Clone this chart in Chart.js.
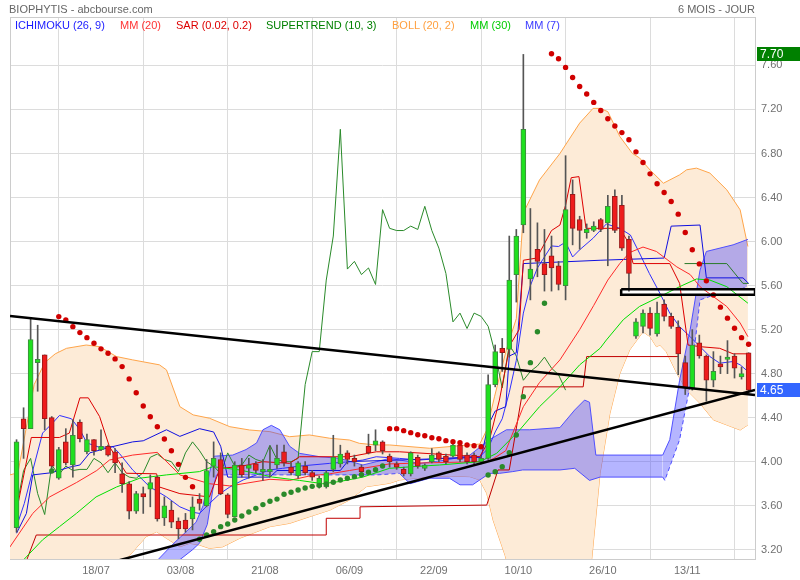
<!DOCTYPE html>
<html>
<head>
<meta charset="utf-8">
<script src="https://cdn.jsdelivr.net/npm/chart.js@4.4.0/dist/chart.umd.min.js"></script>
<style>
  body { margin: 0; background: #fff; }
  #wrap { position: relative; width: 800px; height: 580px; font-family: 'Liberation Sans', Arial, sans-serif; font-size: 11px; }
  #wrap canvas { position: absolute; left: 0; top: 0; }
  .t { position: absolute; white-space: nowrap; line-height: 12px; }
</style>
</head>
<body>
<div id="wrap">
  <canvas id="chart" width="800" height="580"></canvas>
  <div class="t" style="left:9px;top:3px;color:#666">BIOPHYTIS - abcbourse.com</div>
  <div class="t" style="right:45px;top:3px;color:#666">6 MOIS - JOUR</div>
  <div class="t" style="left:15px;top:19px;color:#1a1aff">ICHIMOKU (26, 9)</div>
  <div class="t" style="left:120px;top:19px;color:#ff3333">MM (20)</div>
  <div class="t" style="left:176px;top:19px;color:#dd0000">SAR (0.02, 0.2)</div>
  <div class="t" style="left:266px;top:19px;color:#008000">SUPERTREND (10, 3)</div>
  <div class="t" style="left:392px;top:19px;color:#ffa040">BOLL (20, 2)</div>
  <div class="t" style="left:470px;top:19px;color:#00cc00">MM (30)</div>
  <div class="t" style="left:525px;top:19px;color:#3b3bff">MM (7)</div>
</div>
<script>
// axis labels
const tickIdx = [12, 24, 36, 48, 60, 72, 84, 96];
const tickDates = ['18/07', '03/08', '21/08', '06/09', '22/09', '10/10', '26/10', '13/11'];
const yTicks = [3.2, 3.6, 4.0, 4.4, 4.8, 5.2, 5.6, 6.0, 6.4, 6.8, 7.2, 7.6];

// daily candles (index 0 = 30/06)
const opens = [
  3.40,4.39,4.30,4.90,4.97,4.40,3.85,4.18,3.97,4.36,
  4.09,4.20,4.11,4.14,4.09,3.89,3.80,3.55,3.71,3.75,
  3.86,3.49,3.56,3.46,3.47,3.48,3.66,3.60,3.96,4.02,
  3.70,3.50,3.97,3.95,3.98,3.91,3.91,3.97,4.09,3.95,
  3.87,3.96,3.90,3.77,3.77,3.93,3.98,4.08,4.03,3.95,
  4.14,4.16,4.18,4.05,3.97,3.93,3.89,4.04,3.94,4.00,
  4.08,4.05,4.05,4.15,4.06,4.06,4.00,4.03,4.70,5.02,
  5.02,5.70,6.15,5.66,5.93,5.80,5.87,5.78,5.60,6.43,
  6.20,6.09,6.10,6.20,6.17,6.41,6.33,6.02,5.14,5.23,
  5.35,5.16,5.43,5.32,5.22,4.90,4.67,5.08,4.96,4.74,
  4.88,4.93,4.96,4.78,4.99
];
const highs = [
  4.20,4.49,5.31,5.24,4.97,4.41,4.13,4.30,4.38,4.38,
  4.25,4.20,4.29,4.15,4.12,3.99,3.82,3.73,3.77,3.88,
  3.87,3.68,3.64,3.49,3.53,3.68,3.71,4.02,4.18,4.08,
  3.71,4.00,4.03,4.03,4.00,4.02,4.14,4.15,4.15,3.99,
  4.00,4.00,3.92,3.87,3.92,4.24,4.15,4.10,4.06,3.97,
  4.25,4.29,4.19,4.07,4.00,3.95,4.09,4.06,3.98,4.12,
  4.09,4.07,4.18,4.17,4.08,4.08,4.05,4.79,5.06,5.12,
  6.05,6.11,7.70,6.30,6.17,6.11,6.05,5.82,6.78,6.56,
  6.23,6.16,6.18,6.21,6.42,6.47,6.42,6.05,5.30,5.38,
  5.40,5.45,5.47,5.35,5.28,4.96,5.20,5.15,4.97,5.00,
  4.96,5.10,4.98,4.86,4.99
];
const lows = [
  3.36,4.03,4.30,4.64,4.29,3.94,3.84,3.97,3.86,4.18,
  4.07,4.06,4.10,4.05,3.90,3.72,3.48,3.53,3.53,3.59,
  3.46,3.42,3.40,3.30,3.36,3.38,3.56,3.59,3.86,3.70,
  3.49,3.50,3.86,3.85,3.90,3.83,3.86,3.94,3.96,3.88,
  3.85,3.88,3.83,3.76,3.76,3.91,3.95,3.98,3.96,3.88,
  4.07,4.10,4.07,3.95,3.93,3.87,3.87,3.94,3.92,3.99,
  4.00,3.98,4.04,4.00,3.98,3.98,3.98,4.02,4.68,4.82,
  4.95,5.45,6.08,5.47,5.68,5.55,5.55,5.56,5.47,5.97,
  5.93,6.03,6.09,6.09,5.78,6.08,5.92,5.55,5.12,5.17,
  5.15,5.14,5.28,5.21,4.79,4.61,4.65,4.94,4.55,4.68,
  4.80,4.80,4.76,4.75,4.63
];
const closes = [
  4.18,4.30,5.11,4.93,4.39,3.96,4.11,3.99,4.24,4.21,
  4.20,4.10,4.14,4.06,3.99,3.80,3.55,3.71,3.68,3.81,
  3.48,3.60,3.45,3.39,3.39,3.59,3.62,3.92,4.03,3.71,
  3.52,3.97,3.88,3.96,3.92,3.93,3.93,4.03,3.99,3.90,
  3.99,3.90,3.86,3.85,3.90,4.04,4.07,4.02,4.00,3.91,
  4.08,4.18,4.10,4.00,3.96,3.89,4.08,3.96,3.97,4.06,
  4.02,4.00,4.15,4.02,4.00,4.00,4.03,4.70,5.00,5.00,
  5.65,6.05,7.02,5.75,5.82,5.70,5.76,5.61,6.29,6.12,
  6.10,6.10,6.14,6.11,6.32,6.10,5.94,5.71,5.27,5.35,
  5.21,5.35,5.32,5.23,4.98,4.67,5.06,4.96,4.74,4.82,
  4.87,4.95,4.85,4.79,4.65
];

// lagging line (dark green), index 0..78
const chikou = [
  3.58,3.92,4.03,3.71,3.52,3.97,3.88,3.96,3.92,3.93,
  3.93,4.03,3.99,3.90,3.99,3.90,3.86,3.85,3.90,4.04,
  4.07,4.02,4.00,3.91,4.08,4.18,4.10,4.00,3.96,3.89,
  4.08,3.96,3.97,4.06,4.02,4.00,4.15,4.02,4.00,4.00,
  4.03,4.70,5.00,5.00,5.65,6.05,7.02,5.75,5.82,5.70,
  5.76,5.61,6.29,6.12,6.10,6.10,6.14,6.11,6.32,6.10,
  5.94,5.71,5.27,5.35,5.21,5.35,5.32,5.23,4.98,4.67,
  5.06,4.96,4.74,4.82,4.87,4.95,4.85,4.79,4.65
];

// indicator lines: [day index, value]
const bollUp = [[-0.93,3.88],[0.2,3.90],[1.5,4.35],[2.5,4.70],[4,4.90],[5.5,4.98],[7.1,5.03],[9.9,5.06],[11.8,5.045],
  [14.2,4.955],[16.5,4.925],[20.3,4.88],[21.3,4.834],[23.2,4.50],[25.1,4.425],[27.4,4.395],[30.3,4.318],[33.1,4.288],
  [36,4.273],[38.8,4.227],[41.6,4.243],[44.5,4.213],[47.3,4.197],[48.7,4.167],[51.1,4.152],[53,4.152],[58.7,4.122],
  [65.8,4.16],[66.8,4.288],[67.9,4.59],[69.6,5.02],[71,5.30],[72,6.26],[74.3,6.56],[77.2,6.80],[80,7.076],[81.9,7.21],
  [82.9,7.21],[84,7.18],[85.7,6.955],[87.5,6.80],[88.5,6.76],[90,6.65],[91.9,6.53],[94.2,6.606],[95.2,6.652],
  [96.6,6.667],[98.5,6.622],[100.9,6.47],[102.8,6.288],[103.9,5.955]];
const bollLow = [[-0.93,2.80],[10,2.85],[14,3.00],[15.6,3.115],[18.4,3.318],[19.9,3.364],[21.3,3.304],[23.2,3.227],
  [24.6,3.258],[26,3.243],[27.4,3.213],[29.3,3.227],[31.7,3.304],[36,3.41],[38.8,3.44],[41.6,3.50],[44.5,3.56],
  [47.3,3.652],[49.7,3.773],[53,3.804],[54.4,3.834],[58.7,3.864],[61.5,3.87],[64.4,3.864],[65.8,3.834],[66.8,3.713],
  [67.7,3.47],[69.4,3.15],[70.4,2.92],[72,2.40],[77,2.50],[80.7,2.92],[81.7,3.106],[82.9,3.895],[84.3,4.44],
  [85.7,4.80],[87.1,5.015],[89,5.18],[90,5.136],[90.9,5.045],[91.4,5.06],[92.3,5.00],[93.8,4.804],[95.2,4.652],
  [97.1,4.53],[99,4.38],[100.9,4.334],[102.8,4.288],[103.9,4.334]];
const mm20 = [[-1,3.22],[2.3,3.53],[4.7,3.68],[8.5,3.81],[11.4,3.92],[13.2,4.015],[16.5,4.06],[20,4.085],[23.2,3.88],
  [27.4,3.80],[30.3,3.78],[36,3.84],[38.8,3.83],[41.6,3.87],[44.5,3.89],[47.3,3.92],[53,3.98],[58.7,3.99],[65.8,4.0],
  [66.8,4.0],[67.8,4.03],[69.5,4.10],[72,4.50],[74.3,4.72],[77.2,4.925],[80,5.20],[82,5.42],[84,5.65],[85.7,5.80],
  [87.1,5.90],[89,5.95],[90.9,5.91],[93.8,5.77],[95.7,5.70],[97.1,5.59],[99,5.50],[100.9,5.41],[102.8,5.26],[103.9,5.136]];
const mm30 = [[0,3.04],[1.4,3.136],[3.7,3.29],[6.1,3.41],[8.5,3.53],[11.3,3.68],[14.2,3.77],[17.5,3.85],[21.3,3.88],
  [26,3.91],[27.9,3.955],[31.7,3.925],[36.4,3.86],[40.2,3.83],[43.5,3.80],[45.9,3.82],[49.2,3.86],[53,3.94],
  [56.3,3.955],[60.1,3.97],[65.8,4.0],[68.2,4.076],[71.5,4.29],[74.3,4.50],[77.2,4.68],[80,4.88],[82.9,5.03],
  [83.8,5.106],[86.2,5.29],[88.5,5.41],[91.4,5.50],[94.2,5.59],[96.6,5.66],[98.5,5.65],[100.9,5.59],[103.9,5.44]];
const mm7 = [[0,3.41],[1.1,3.62],[2.3,3.92],[3.7,4.26],[5.1,4.35],[6.1,4.42],[7.8,4.39],[9,4.29],[10,4.17],[11.8,4.13],
  [13.7,4.136],[14.6,4.076],[16.5,3.925],[18.9,3.773],[21.3,3.68],[23.2,3.59],[25.1,3.54],[26,3.53],[27.4,3.62],
  [28.9,3.71],[30.3,3.77],[32.2,3.834],[34.1,3.88],[36,3.925],[37.8,3.94],[40.2,3.96],[44.5,3.985],[47.3,4.0],
  [49.2,4.015],[51.1,4.045],[54.4,4.03],[57.3,4.015],[60.1,4.03],[65.8,4.045],[67,4.12],[68,4.27],[69,4.39],
  [70,4.63],[71,4.92],[72,5.35],[73,5.60],[74,5.76],[76,5.96],[77,5.955],[78,5.995],[79,5.86],[80,5.925],
  [81.9,6.03],[83.8,6.16],[85.7,6.12],[87.2,6.06],[88.5,5.895],[89.9,5.71],[91.4,5.53],[92.8,5.35],[94.2,5.227],
  [95.7,5.136],[97.1,5.045],[98.5,4.955],[99.9,4.895],[101.8,4.91],[102.8,4.88],[103.9,4.82]];
const tenkan = [[0,3.55],[2.1,4.22],[6.1,4.22],[7.5,4.26],[9,4.58],[10.2,4.58],[11.8,4.41],[13.2,4.136],[15.6,3.895],
  [19.9,3.89],[20.3,3.77],[23.2,3.71],[27.4,3.68],[28.9,3.94],[31.7,3.955],[35,4.0],[38.8,3.985],[40.2,4.045],
  [47.3,4.045],[51.1,4.09],[54.4,4.09],[65.8,4.045],[67.2,4.20],[68.6,4.56],[70.1,5.06],[71.4,5.20],[72,5.83],
  [73.9,5.85],[76,6.10],[77.2,6.15],[78,6.33],[78.8,6.58],[79.9,6.59],[80.9,6.12],[85.7,6.12],[86.7,6.015],
  [87.6,5.80],[92.8,5.80],[94.2,5.62],[95.4,5.06],[97.1,5.045],[99.9,5.03],[101.8,4.98],[104,4.98]];
const kijun = [[0,3.35],[1.4,3.53],[2.3,3.88],[5,3.90],[7.5,3.95],[9,3.97],[10.4,4.08],[13.2,4.13],[16.5,4.18],
  [18,4.19],[21.3,4.29],[23.2,4.23],[26,4.30],[28,4.27],[29,4.14],[30,3.86],[36,3.86],[37,3.92],[46,3.92],[47,4.0],
  [66,4.04],[67,4.33],[68,4.46],[69.5,4.50],[70,4.96],[71,4.99],[72,5.80],[82.9,5.83],[92,5.85],[93,6.14],
  [97.1,6.15],[98,5.67],[103.2,5.67],[104,5.62]];
const senkouA = [[18.9,2.90],[20.1,3.11],[22.2,3.25],[24.2,3.37],[25.5,3.45],[26.5,3.60],[27.4,3.895],[27.9,4.03],
  [28.1,4.05],[30.7,4.06],[32.6,4.11],[34.1,4.17],[35,4.29],[36.2,4.33],[37.4,4.29],[38.8,4.14],[40.2,4.076],
  [43.1,4.045],[45.9,4.03],[49.2,3.97],[51.1,4.0],[53,4.03],[57.3,3.985],[61.1,4.015],[64.4,4.06],[67.2,4.20],
  [69.6,4.29],[72.9,4.29],[77.2,4.31],[79.3,4.47],[80.7,4.56],[81.4,4.54],[82.3,4.06],[91.8,4.06],[92.8,4.20],
  [94.2,4.74],[95.7,5.20],[97.1,5.74],[98,5.91],[101.8,5.97],[103.9,6.02]];
const senkouB = [[20.1,2.80],[23.2,3.11],[25,3.20],[26,3.26],[27.1,3.43],[27.9,3.75],[28.4,3.88],[51.2,3.88],
  [54.4,3.894],[55.9,3.80],[58.7,3.85],[61.5,3.85],[63,3.79],[64.8,3.79],[65.8,3.834],[67.2,3.894],[68.6,3.894],
  [70.5,3.91],[71.9,3.925],[77.2,3.925],[79.3,3.94],[81.4,3.83],[82.9,3.86],[91.8,3.86],[92.1,3.83],[94.2,4.20],
  [95.7,4.70],[97.1,5.47],[98.9,5.51],[101.8,5.54],[103.8,5.59]];
const stopLine = [[1.4,3.10],[2.8,3.334],[44,3.334],[44,3.486],[48.8,3.486],[48.8,3.59],[66.8,3.606],[68.4,3.925],
  [70,3.925],[72,4.68],[80.5,4.68],[81,4.955],[94,4.955]];
const trendLine = [[94.9,5.80],[100.9,5.80],[103.2,5.62],[104,5.62]];

// dotted series: [first day index, values...]
const sarRuns = [
  [6, [5.318,5.288,5.227,5.173,5.127,5.076,5.025,4.985,4.934,4.864,4.752,4.627,4.506,4.409,4.318,4.206,4.10,3.976,3.858,3.773]],
  [53, [4.30,4.30,4.282,4.264,4.245,4.236,4.218,4.209,4.191,4.182,4.173,4.152,4.145,4.136]],
  [76, [7.706,7.661,7.582,7.491,7.409,7.34,7.264,7.19,7.115,7.05,6.99,6.925,6.815,6.718,6.615,6.525,6.445,6.364,
        6.249,6.082,5.925,5.797,5.643,5.515,5.404,5.304,5.213,5.127,5.067]]
];
const superRuns = [
  [5, [3.915]],
  [26, [3.295,3.334,3.364,3.41,3.434,3.47,3.506,3.543,3.576,3.61,3.64,3.66,3.704,3.722,3.743,3.761,3.776,3.785,
        3.797,3.813,3.834,3.849,3.864,3.882,3.904,3.927,3.961]],
  [67, [3.879,3.909,3.955,4.082,4.243,4.591,4.90,5.18,5.44]]
];

// hand-drawn objects: trend lines and box
const drawnDown = [[-0.93,5.324],[104.91,4.606]];
const drawnUp = [[10,3.026],[104.91,4.651]];
const boxLeft = 85.9, boxRight = 104.91, boxTop = 5.566, boxBottom = 5.516;

const pts = arr => arr.map(([x, y]) => ({x, y}));
const runs = list => list.flatMap(([s, vals]) => vals.map((v, k) => ({x: s + k, y: v})));

const days = opens.map((_, i) => i);
const wicks = days.map(i => ({x: i, y: [lows[i], highs[i]]}));
const bodies = days.map(i => {
  let lo = Math.min(opens[i], closes[i]), hi = Math.max(opens[i], closes[i]);
  if (hi - lo < 0.02) { lo -= 0.01; hi += 0.01; }
  return {x: i, y: [lo, hi]};
});
const isUp = days.map(i => closes[i] >= opens[i]);

function line(data, color, extra) {
  return Object.assign({type: 'line', data, borderColor: color, borderWidth: 1, pointRadius: 0,
    fill: false, tension: 0, order: 4}, extra || {});
}
function dots(data, color) {
  return {type: 'line', data, showLine: false, pointRadius: 2.7, pointBackgroundColor: color,
    pointBorderWidth: 0, order: 1};
}
const dashB = x => (x >= 28 && x < 51.5) || x >= 91.8;

const chromePlugin = {
  id: 'chrome',
  beforeDraw(chart) {
    const {ctx, width, height} = chart;
    ctx.save();
    ctx.fillStyle = '#ffffff';
    ctx.fillRect(0, 0, width, height);
    ctx.restore();
  },
  beforeDatasetsDraw(chart) {
    const {ctx, chartArea: a} = chart;
    ctx.save();
    ctx.strokeStyle = '#cccccc';
    ctx.lineWidth = 1;
    ctx.strokeRect(a.left + 0.5, a.top + 0.5, a.right - a.left, a.bottom - a.top);
    ctx.restore();
  },
  afterDraw(chart) {
    const {ctx} = chart;
    const y = chart.scales.y;
    const tags = [[Math.max(...highs), '#008000'], [closes[closes.length - 1], '#3366ff']];
    ctx.save();
    ctx.font = "12px 'Liberation Sans', Arial, sans-serif";
    ctx.textBaseline = 'middle';
    tags.forEach(([v, col]) => {
      const py = Math.round(y.getPixelForValue(v));
      ctx.fillStyle = col;
      ctx.fillRect(757, py - 7, 43, 14);
      ctx.fillStyle = '#ffffff';
      ctx.fillText(v.toFixed(2), 760, py + 0.5);
    });
    ctx.restore();
  }
};

Chart.defaults.font.family = "'Liberation Sans', Arial, sans-serif";

new Chart(document.getElementById('chart'), {
  type: 'bar',
  data: {
    datasets: [
      // bollinger band
      line(pts(bollUp), '#ffa54a', {fill: '+1', backgroundColor: '#fdebd7', order: 8}),
      line(pts(bollLow), '#ffa54a', {order: 8}),
      // ichimoku cloud
      line(pts(senkouA), '#5050ff', {fill: '+1', backgroundColor: 'rgba(70,70,255,0.40)', order: 7}),
      line(pts(senkouB), '#5050ff', {order: 7,
        segment: {borderDash: c => dashB(c.p0.parsed.x) ? [4, 3] : undefined}}),
      // box fill
      line(pts([[boxLeft, boxTop], [boxRight, boxTop]]), 'rgba(0,0,0,0)', {fill: '+1', backgroundColor: '#ffffff', borderWidth: 0, order: 6}),
      line(pts([[boxLeft, boxBottom], [boxRight, boxBottom]]), 'rgba(0,0,0,0)', {borderWidth: 0, order: 6}),
      // moving averages and ichimoku lines
      line(pts(mm30), '#00e000'),
      line(pts(mm20), '#ff2a2a'),
      line(pts(stopLine), '#c00000'),
      line(pts(tenkan), '#dd0000'),
      line(pts(kijun), '#1010e0'),
      line(pts(mm7), '#3030ff'),
      line(chikou.map((v, i) => ({x: i, y: v})), '#2a8a2a'),
      line(pts(trendLine), '#2a7a2a'),
      // candles
      {type: 'bar', data: wicks, backgroundColor: '#555555', barThickness: 1, grouped: false, order: 3},
      {type: 'bar', data: bodies, grouped: false, barThickness: 5, borderWidth: 1, borderSkipped: false,
        backgroundColor: isUp.map(u => u ? '#1fe01f' : '#ee1c1c'),
        borderColor: isUp.map(u => u ? '#3f8a3f' : '#9a1a1a'), order: 2},
      // dots
      dots(runs(sarRuns), '#d00000'),
      dots(runs(superRuns), '#2a8a2a'),
      // drawn trend lines and box
      line(pts(drawnDown), '#000000', {borderWidth: 2.5, order: 0}),
      line(pts(drawnUp), '#000000', {borderWidth: 2.5, order: 0}),
      line(pts([[boxLeft, boxTop], [boxRight, boxTop], [boxRight, boxBottom], [boxLeft, boxBottom], [boxLeft, boxTop]]),
        '#000000', {borderWidth: 2.5, borderJoinStyle: 'miter', order: 0})
    ]
  },
  options: {
    responsive: false,
    devicePixelRatio: 1,
    animation: false,
    events: [],
    layout: {padding: {left: 10, top: 17, right: 0, bottom: 0}},
    plugins: {legend: {display: false}, tooltip: {enabled: false}},
    scales: {
      x: {
        type: 'linear', min: -0.93, max: 104.91, offset: false,
        afterBuildTicks: s => { s.ticks = tickIdx.map(v => ({value: v})); },
        afterFit: s => { s.height = 21; },
        ticks: {callback: v => tickDates[tickIdx.indexOf(v)] || '', color: '#707070', font: {size: 11},
          padding: 5, labelOffset: -5, maxRotation: 0, autoSkip: false},
        grid: {color: '#dcdcdc', drawTicks: false},
        border: {color: '#cccccc'}
      },
      y: {
        position: 'right', min: 3.116, max: 8.04,
        afterBuildTicks: s => { s.ticks = yTicks.map(v => ({value: v})); },
        afterFit: s => { s.width = 45; },
        ticks: {callback: v => Number(v).toFixed(2), color: '#707070', font: {size: 11}, padding: 6},
        grid: {color: '#dcdcdc', drawTicks: false},
        border: {color: '#cccccc'}
      }
    }
  },
  plugins: [chromePlugin]
});
</script>
</body>
</html>
